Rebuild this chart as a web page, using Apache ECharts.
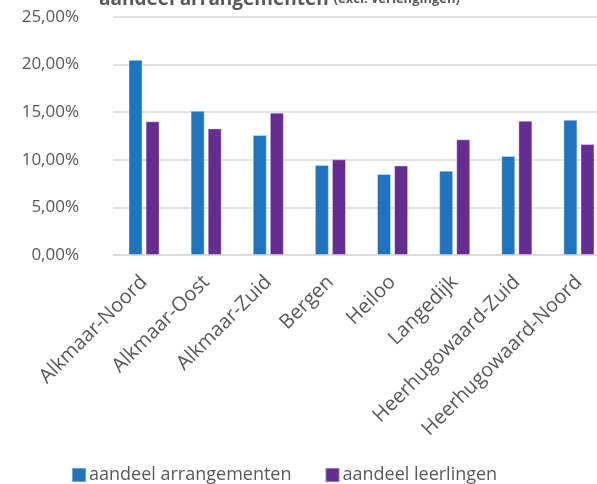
<!DOCTYPE html>
<html>
<head>
<meta charset="utf-8">
<script src="https://cdn.jsdelivr.net/npm/echarts@6/dist/echarts.min.js"></script>
<style>
  html, body { margin: 0; padding: 0; background: #fff; overflow: hidden; }
  /* the plot area runs past the right edge of the window, as in the original */
  #chart { width: 610px; height: 484px; }
</style>
</head>
<body>
<div id="chart"></div>
<script>
'use strict';
const regios = ["Alkmaar-Noord", "Alkmaar-Oost", "Alkmaar-Zuid", "Bergen", "Heiloo", "Langedijk", "Heerhugowaard-Zuid", "Heerhugowaard-Noord"];
const arrangementen = [20.5, 15.15, 12.6, 9.45, 8.5, 8.85, 10.4, 14.2];
const leerlingen = [14.05, 13.3, 14.95, 10.05, 9.4, 12.15, 14.1, 11.65];
const seriesNames = ["aandeel arrangementen", "aandeel leerlingen"];

const font = "'Open Sans', 'DejaVu Sans', sans-serif";
const grey = "#595959";

function pct(v) {
    return v.toFixed(2).replace(".", ",") + "%";
}

const chart = echarts.init(document.getElementById("chart"), null, { renderer: "canvas" });

chart.setOption({
    animation: false,
    title: {
        text: "{b|aandeel arrangementen} {s|(excl. verlengingen)}",
        left: 94,
        top: -15,
        textStyle: {
            rich: {
                b: { fontFamily: font, fontWeight: "bold", fontSize: 19, color: grey },
                s: { fontFamily: font, fontSize: 13, color: grey }
            }
        }
    },
    legend: {
        top: 461,
        left: 66,
        itemWidth: 14,
        itemHeight: 14,
        itemGap: 33,
        icon: "rect",
        textStyle: { fontFamily: font, fontSize: 18, color: grey, padding: [0, 0, 0, -2] },
        data: seriesNames
    },
    grid: { left: 113, right: 0, top: 17, bottom: 229, containLabel: false },
    xAxis: {
        type: "category",
        data: regios,
        axisTick: { show: false },
        axisLine: { lineStyle: { color: "#d9d9d9", width: 1.5 } },
        axisLabel: {
            rotate: 45,
            interval: 0,
            margin: 24,
            fontFamily: font,
            fontSize: 20,
            color: grey
        }
    },
    yAxis: {
        type: "value",
        min: 0,
        max: 25,
        interval: 5,
        axisLine: { show: false },
        axisTick: { show: false },
        splitLine: { lineStyle: { color: "#d9d9d9", width: 1.5 } },
        axisLabel: {
            formatter: pct,
            margin: 34,
            fontFamily: font,
            fontSize: 17,
            color: grey
        }
    },
    series: [
        {
            name: seriesNames[0],
            type: "bar",
            data: arrangementen,
            barWidth: 14,
            barGap: "22%",
            itemStyle: { color: "#1f74bd", borderColor: "rgba(255,255,255,0.35)", borderWidth: 1 }
        },
        {
            name: seriesNames[1],
            type: "bar",
            data: leerlingen,
            barWidth: 14,
            itemStyle: { color: "#662d91", borderColor: "rgba(255,255,255,0.35)", borderWidth: 1 }
        }
    ]
});
</script>
</body>
</html>
